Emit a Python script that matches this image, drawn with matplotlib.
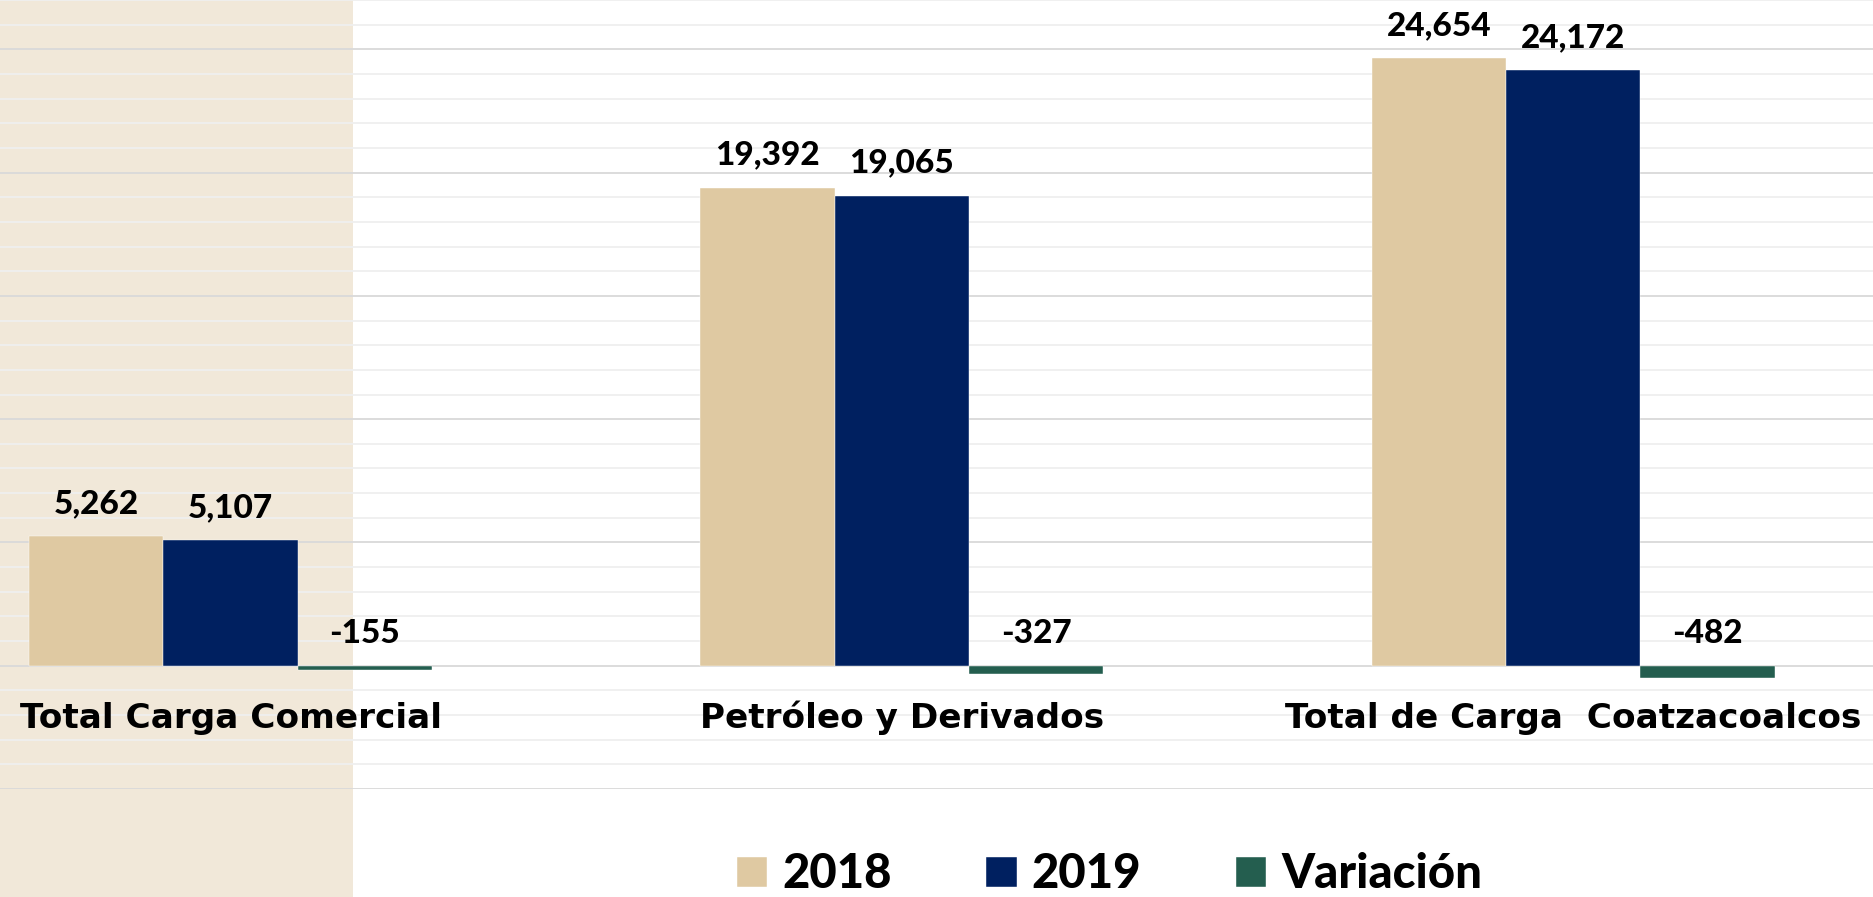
import matplotlib
matplotlib.use("Agg")
import matplotlib.pyplot as plt
from matplotlib.patches import Rectangle
from matplotlib.ticker import MultipleLocator
import numpy as np

categories = ["Total Carga Comercial", "Petróleo y Derivados", "Total de Carga  Coatzacoalcos"]
series_names = ["2018", "2019", "Variación"]
values_2018 = [5262, 19392, 24654]
values_2019 = [5107, 19065, 24172]
variacion = [-155, -327, -482]
colors = ["#DFC9A2", "#002060", "#245E4F"]

LABEL_FONT = "Lato"
CAT_FONT = "DejaVu Sans"

fig = plt.figure(figsize=(18.73, 8.97), dpi=100)
# beige band on the left side of the slide
fig.patches.append(Rectangle((0, 0), 0.1885, 1, transform=fig.transFigure,
                             facecolor="#F1E8D9", edgecolor="none", zorder=-1))

ax = fig.add_axes([0, 0.1204, 1, 0.8796])
ax.set_facecolor("none")

x = np.arange(len(categories))
w = 0.2
series = [values_2018, values_2019, variacion]
for k, (vals, color, name) in enumerate(zip(series, colors, series_names)):
    bars = ax.bar(x + (k - 1) * w, vals, w, color=color, label=name, zorder=3,
                  edgecolor="#FFFFFF", linewidth=0.3)
    for b, v in zip(bars, vals):
        ax.annotate(f"{v:,}", xy=(b.get_x() + b.get_width() / 2, max(v, 0)),
                    xytext=(0, 16.5), textcoords="offset points",
                    ha="center", va="baseline", fontsize=24,
                    fontweight="black", family=LABEL_FONT, color="black")

# category names under each group
for i, cat in enumerate(categories):
    ax.annotate(cat, xy=(x[i], 0), xytext=(0, -44.6), textcoords="offset points",
                ha="center", va="baseline", fontsize=24.7, fontweight="bold",
                family=CAT_FONT, color="black")

ax.set_xlim(-0.3434, 2.4467)
ax.set_ylim(-5000, 27000)
ax.yaxis.set_major_locator(MultipleLocator(5000))
ax.yaxis.set_minor_locator(MultipleLocator(1000))
ax.set_axisbelow(True)
ax.grid(which="major", axis="y", color="#D9D9D9", linewidth=1.3)
ax.grid(which="minor", axis="y", color="#EFEFEF", linewidth=1.3)
ax.tick_params(which="both", left=False, bottom=False, labelleft=False, labelbottom=False)
for s in ax.spines.values():
    s.set_visible(False)

ax.legend(loc="center", bbox_to_anchor=(0.5924, 0.0251), bbox_transform=fig.transFigure,
          ncol=3, frameon=False,
          prop=dict(family=LABEL_FONT, weight="black", size=34),
          handlelength=0.64, handleheight=0.62, handletextpad=0.32,
          columnspacing=2.0, borderpad=0, borderaxespad=0)

fig.savefig("out.png", dpi=100)
